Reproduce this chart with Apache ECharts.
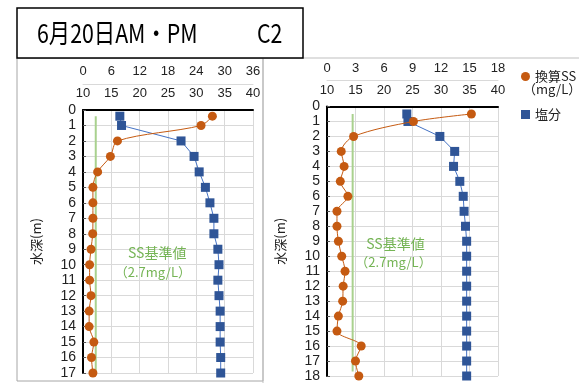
<!DOCTYPE html>
<html>
<head>
<meta charset="utf-8">
<script src="https://cdn.jsdelivr.net/npm/echarts@6/dist/echarts.min.js"></script>
<style>
  html, body { margin: 0; padding: 0; background: #fff; }
  #chart { width: 579px; height: 383px; }
</style>
</head>
<body>
<div id="chart"></div>
<script>
    var fontFamily = 'Liberation Sans, Noto Sans CJK JP, sans-serif';

    // AM (left panel)
    var depthAM = [0.4, 1, 2, 3, 4, 5, 6, 7, 8, 9, 10, 11, 12, 13, 14, 15, 16, 17];
    var ssAM = [27.4, 25.0, 7.3, 5.8, 3.1, 2.1, 2.1, 2.1, 2.05, 1.7, 1.4, 1.4, 1.7, 1.3, 1.3, 2.3, 1.8, 2.1];
    var saltAM = [16.5, 16.8, 27.3, 29.6, 30.5, 31.6, 32.4, 33.1, 33.1, 33.8, 34.0, 33.8, 34.0, 34.2, 34.2, 34.2, 34.3, 34.3];

    // PM (right panel)
    var depthPM = [0.5, 1, 2, 3, 4, 5, 6, 7, 8, 9, 10, 11, 12, 13, 14, 15, 16, 17, 18];
    var ssPM = [15.2, 9.1, 2.8, 1.5, 1.8, 1.4, 2.2, 1.05, 1.05, 1.2, 1.55, 1.9, 1.7, 1.65, 1.2, 1.05, 3.6, 3.0, 3.35];
    var saltPM = [24.0, 24.2, 29.8, 32.4, 32.2, 33.3, 33.9, 34.05, 34.3, 34.5, 34.5, 34.5, 34.5, 34.5, 34.5, 34.5, 34.5, 34.5, 34.5];

    var ssStandard = 2.7;
    var refDepthAM = [0.4, 17];
    var refDepthPM = [0.5, 17.7];

    var orange = '#c55a11';
    var blueMark = '#2f5597';
    var blueLine = '#4472c4';
    var green = '#a9d18e';
    var greenText = '#75b455';
    var gridGray = '#d9d9d9';

    function pairs(xs, ys) {
        return xs.map(function (x, i) { return [x, ys[i]]; });
    }

    function ssAxis(grid, max, interval) {
        return {
            type: 'value', gridIndex: grid, position: 'top', offset: 26,
            min: 0, max: max, interval: interval,
            axisLine: { show: true, onZero: false, lineStyle: { color: gridGray } },
            axisTick: { show: false },
            axisLabel: { color: '#222', fontSize: 13, margin: 6 },
            splitLine: { show: true, lineStyle: { color: gridGray } }
        };
    }

    function saltAxis(grid) {
        return {
            type: 'value', gridIndex: grid, position: 'top', offset: 0,
            min: 10, max: 40, interval: 5,
            axisLine: { show: true, onZero: false, lineStyle: { color: '#000', width: 2 } },
            axisTick: { show: false },
            axisLabel: { color: '#222', fontSize: 13, margin: 10 },
            splitLine: { show: false }
        };
    }

    function depthAxis(grid, max) {
        return {
            type: 'value', gridIndex: grid, inverse: true,
            min: 0, max: max, interval: 1,
            name: '水深(m)', nameLocation: 'middle', nameRotate: 90, nameGap: 40,
            nameTextStyle: { color: '#222', fontSize: 13, fontFamily: 'Noto Sans CJK JP' },
            axisLine: { show: true, onZero: false, lineStyle: { color: '#000', width: 2 } },
            axisTick: { show: true, inside: true, length: 3, lineStyle: { color: '#555' } },
            axisLabel: { color: '#222', fontSize: 14, margin: 7 },
            splitLine: { show: true, lineStyle: { color: gridGray } }
        };
    }

    function refSeries(xi, yi, depths, labels) {
        return {
            name: 'SS基準値', type: 'line', xAxisIndex: xi, yAxisIndex: yi,
            data: [[ssStandard, depths[0]], [ssStandard, depths[1]]],
            symbol: 'none', silent: true, z: 1,
            lineStyle: { color: green, width: 2 },
            markPoint: {
                symbol: 'circle', symbolSize: 0,
                label: { show: true, position: 'inside', formatter: '{b}', color: greenText, fontSize: 14, fontFamily: 'Noto Sans CJK JP' },
                data: labels
            }
        };
    }

    function ssSeries(xi, yi, xs, ys) {
        return {
            name: '換算SS', type: 'line', xAxisIndex: xi, yAxisIndex: yi,
            data: pairs(xs, ys), smooth: 0.3, z: 3,
            symbol: 'circle', symbolSize: 9,
            itemStyle: { color: orange },
            lineStyle: { color: orange, width: 1 }
        };
    }

    function saltSeries(xi, yi, xs, ys) {
        return {
            name: '塩分', type: 'line', xAxisIndex: xi, yAxisIndex: yi,
            data: pairs(xs, ys), z: 2,
            symbol: 'rect', symbolSize: 9,
            itemStyle: { color: blueMark },
            lineStyle: { color: blueLine, width: 1 }
        };
    }

    var chart = echarts.init(document.getElementById('chart'), null, { renderer: 'canvas' });

    var option = {
        backgroundColor: '#fff',
        animation: false,
        textStyle: { fontFamily: fontFamily },
        grid: [
            { left: 83, top: 110, width: 170, height: 263 },
            { left: 327, top: 106.5, width: 171, height: 270 }
        ],
        xAxis: [ssAxis(0, 36, 6), saltAxis(0), ssAxis(1, 18, 3), saltAxis(1)],
        yAxis: [depthAxis(0, 17), depthAxis(1, 18)],
        legend: {
            orient: 'vertical', left: 516, top: 65, itemGap: 25,
            itemWidth: 9, itemHeight: 9, selectedMode: false,
            textStyle: { color: '#222', fontSize: 13, fontFamily: 'Noto Sans CJK JP' },
            data: [{ name: '換算SS', icon: 'circle' }, { name: '塩分', icon: 'rect' }]
        },
        graphic: [
            { type: 'rect', shape: { x: 17, y: 58, width: 246, height: 323 }, style: { fill: 'none', stroke: '#a6a6a6', lineWidth: 1 }, z: -1 },
            { type: 'rect', shape: { x: 263, y: 58, width: 340, height: 340 }, style: { fill: 'none', stroke: '#bfbfbf', lineWidth: 1 }, z: -1 },
            { type: 'rect', shape: { x: 17, y: 8, width: 286, height: 50 }, style: { fill: '#fff', stroke: '#000', lineWidth: 1.5 }, z: 0 },
            { type: 'text', x: 37, y: 33, scaleX: 0.82, style: { text: '6月20日AM・PM', font: '26px "Noto Sans CJK JP"', fill: '#000', textVerticalAlign: 'middle' }, z: 1 },
            { type: 'text', x: 257, y: 33, scaleX: 0.82, style: { text: 'C2', font: '26px "Noto Sans CJK JP"', fill: '#000', textVerticalAlign: 'middle' }, z: 1 },
            { type: 'text', x: 523, y: 89, style: { text: '（mg/L）', font: '13px "Noto Sans CJK JP"', fill: '#222', textVerticalAlign: 'middle' }, z: 1 }
        ],
        series: [
            refSeries(0, 0, refDepthAM, [
                { name: 'SS基準値', coord: [15.7, 9.2] },
                { name: '（2.7mg/L）', coord: [14.8, 10.45], label: { fontSize: 13 } }
            ]),
            ssSeries(0, 0, ssAM, depthAM),
            saltSeries(1, 0, saltAM, depthAM),
            refSeries(2, 1, refDepthPM, [
                { name: 'SS基準値', coord: [7.2, 9.17] },
                { name: '（2.7mg/L）', coord: [7.0, 10.37], label: { fontSize: 13 } }
            ]),
            ssSeries(2, 1, ssPM, depthPM),
            saltSeries(3, 1, saltPM, depthPM)
        ]
    };

    chart.setOption(option);
</script>
</body>
</html>
